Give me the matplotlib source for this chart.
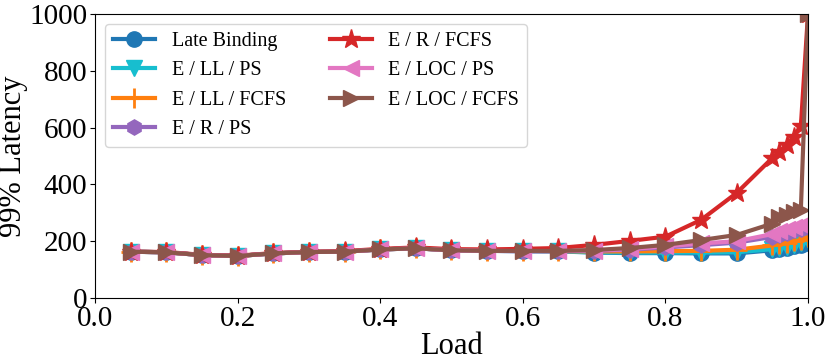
import matplotlib
matplotlib.use("Agg")
import matplotlib.pyplot as plt

plt.rcParams['font.family'] = ['Liberation Serif', 'DejaVu Serif']

# load levels
load = [0.05, 0.10, 0.15, 0.20, 0.25, 0.30, 0.35, 0.40, 0.45, 0.50,
        0.55, 0.60, 0.65, 0.70, 0.75, 0.80, 0.85, 0.90,
        0.95, 0.96, 0.97, 0.98, 0.99, 1.00]

# 99th percentile latency per scheme
late_binding = [163, 161, 151, 148, 157, 162, 163, 171, 175, 168,
                166, 165, 164, 160, 158, 158, 157, 157,
                168, 172, 176, 182, 188, 195]
e_ll_ps = [163, 161, 151, 148, 157, 162, 163, 171, 175, 168,
           166, 165, 164, 161, 160, 160, 160, 161,
           172, 176, 180, 186, 193, 203]
e_ll_fcfs = [163, 161, 151, 148, 157, 162, 163, 171, 175, 168,
             166, 166, 165, 164, 164, 165, 166, 170,
             185, 190, 194, 199, 205, 215]
e_r_ps = [163, 161, 151, 148, 157, 162, 163, 171, 175, 168,
          166, 165, 165, 166, 170, 178, 186, 195,
          215, 222, 230, 238, 244, 250]
e_r_fcfs = [163, 162, 152, 149, 158, 163, 165, 173, 178, 172,
            171, 173, 176, 187, 201, 216, 275, 370,
            493, 515, 540, 567, 605, 1000]
e_loc_ps = [163, 161, 151, 148, 157, 162, 163, 171, 175, 168,
            166, 165, 165, 167, 172, 182, 192, 200,
            225, 235, 244, 251, 257, 262]
e_loc_fcfs = [163, 161, 151, 148, 157, 162, 163, 171, 175, 168,
              166, 166, 166, 169, 176, 187, 204, 222,
              262, 284, 292, 302, 310, 1000]

series = [
    ("Late Binding", late_binding, "o", "tab:blue"),
    ("E / LL / PS", e_ll_ps, "v", "tab:cyan"),
    ("E / LL / FCFS", e_ll_fcfs, "+", "tab:orange"),
    ("E / R / PS", e_r_ps, "h", "tab:purple"),
    ("E / R / FCFS", e_r_fcfs, "*", "tab:red"),
    ("E / LOC / PS", e_loc_ps, "<", "tab:pink"),
    ("E / LOC / FCFS", e_loc_fcfs, ">", "tab:brown"),
]

fig = plt.figure(figsize=(8.31, 3.62), dpi=100)
ax = fig.add_axes([0.1143, 0.1768, 0.8580, 0.7845])

for name, vals, mk, col in series:
    ms = 14 if mk in ("+", "*") else 11
    ax.plot(load, vals, marker=mk, color=col, label=name,
            linewidth=3, markersize=ms, markeredgewidth=2 if mk == "+" else 1)

ax.set_xlim(0, 1)
ax.set_ylim(0, 1000)
ax.set_xticks([0.0, 0.2, 0.4, 0.6, 0.8, 1.0])
ax.set_yticks([0, 200, 400, 600, 800, 1000])
ax.tick_params(labelsize=21, pad=2)
ax.set_xlabel("Load", fontsize=22, labelpad=0)
ax.set_ylabel("99% Latency", fontsize=22, labelpad=1)

ax.legend(loc="upper left", ncol=2, fontsize=14.5, columnspacing=2.2,
          handlelength=2.1, borderaxespad=0.5)

fig.savefig("out.png", dpi=100)
